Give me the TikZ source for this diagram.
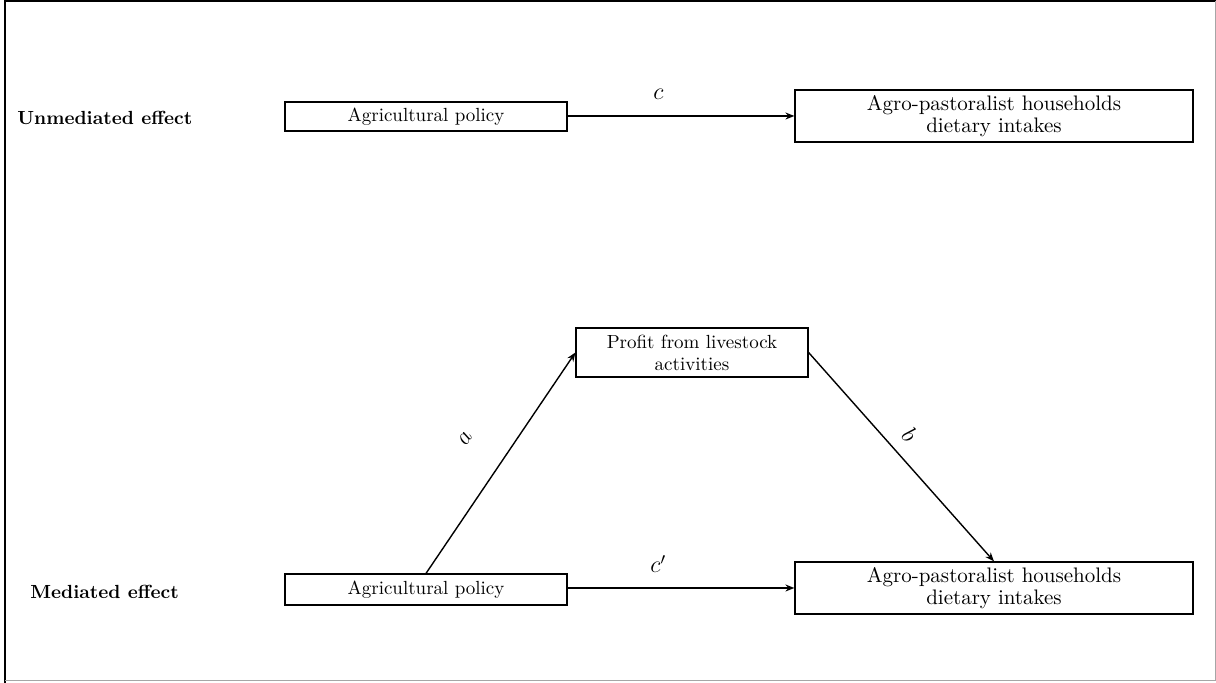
\documentclass[tikz,border=0pt]{standalone}
\usetikzlibrary{arrows.meta}
\begin{document}
\begin{tikzpicture}[x=0.5pt,y=-0.5pt,
  box/.style={draw=black,line width=0.6pt,fill=white,inner sep=0pt,align=center,font=\fontsize{9.5}{11}\selectfont},
  bigbox/.style={box,font=\fontsize{10.5}{11}\selectfont},
  conn/.style={line width=0.7pt,-{Stealth[length=4.5pt,width=3.5pt]}},
  rowlab/.style={font=\bfseries\fontsize{9.5}{12}\selectfont,anchor=west,inner sep=0pt},
  arrlab/.style={font=\fontsize{12}{14}\selectfont,inner sep=0pt}]
\useasboundingbox (0,0) rectangle (1216,683);
\draw[line width=1.2pt] (5,683) -- (5,1.2) -- (1216,1.2);
\draw[gray!70,line width=0.5pt] (1215,1) -- (1215,681) -- (5,681);
% nodes
\node[box,minimum width=141pt,minimum height=14.5pt] (ap1) at (426,116.5) {Agricultural policy};
\node[bigbox,minimum width=199pt,minimum height=26pt] (di1) at (994,116) {Agro-pastoralist households\\dietary intakes};
\node[box,minimum width=116pt,minimum height=24.5pt] (pr) at (692,352.5) {Profit from livestock\\activities};
\node[box,minimum width=141pt,minimum height=15.5pt] (ap2) at (426,589.5) {Agricultural policy};
\node[bigbox,minimum width=199pt,minimum height=26pt] (di2) at (994,588) {Agro-pastoralist households\\dietary intakes};
\node[rowlab] (u) at (17,118) {Unmediated effect};
\node[rowlab] (m) at (30,592) {Mediated effect};
% connectors
\draw[conn] (ap1.east |- di1.center) -- (di1.west) node[arrlab,pos=0.4,yshift=11pt] (lc) {$c$};
\draw[conn] (ap2.east |- di2.center) -- (di2.west) node[arrlab,pos=0.4,yshift=12pt] (lc2) {$c'$};
\draw[conn] (ap2.north) -- (pr.west) node[arrlab,pos=0.5,sloped,above=18.5pt] (la) {$a$};
\draw[conn] (pr.east) -- (di2.north) node[arrlab,pos=0.46,sloped,above=6pt] (lb) {$b$};
\end{tikzpicture}
\end{document}
